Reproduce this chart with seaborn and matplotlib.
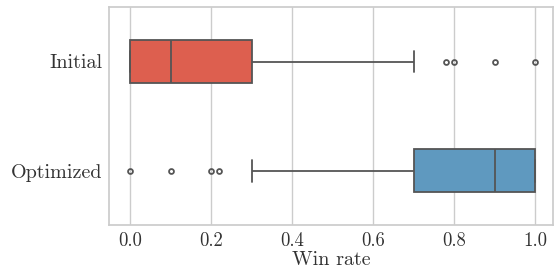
import matplotlib
matplotlib.use("Agg")
import matplotlib.pyplot as plt
import seaborn as sns
import pandas as pd

categories = ["Initial", "Optimized"]
initial_rates = [0, 0, 0, 0, 0, 0, 0, 0.1, 0.1, 0.1, 0.1, 0.1, 0.1, 0.1,
                 0.2, 0.2, 0.3, 0.3, 0.3, 0.5, 0.7, 0.78, 0.8, 0.9, 1.0]
optimized_rates = [0, 0.1, 0.2, 0.22, 0.3, 0.5, 0.7, 0.7, 0.8, 0.8, 0.9, 0.9,
                   0.9, 0.9, 1.0, 1.0, 1.0, 1.0, 1.0, 1.0, 1.0, 1.0, 1.0, 1.0, 1.0]
colors = ["#dd5f4f", "#5f99bf"]
xlabel = "Win rate"

df = pd.DataFrame({
    "Method": [categories[0]] * len(initial_rates) + [categories[1]] * len(optimized_rates),
    "Win rate": initial_rates + optimized_rates,
})

sns.set_theme(style="whitegrid")
plt.rcParams["font.family"] = ["cmr10", "DejaVu Serif"]
plt.rcParams["axes.formatter.use_mathtext"] = True
plt.rcParams["mathtext.fontset"] = "cm"

fig, ax = plt.subplots(figsize=(5.54, 2.69), dpi=100)
sns.boxplot(data=df, x="Win rate", y="Method", hue="Method", order=categories,
            palette=colors, saturation=1, width=0.4, linewidth=1.3,
            linecolor="#555555", legend=False,
            flierprops=dict(marker="o", markersize=3.5, markerfacecolor="none",
                            markeredgecolor="#555555", markeredgewidth=1.3),
            ax=ax)
ax.set_ylabel("")
ax.set_xlabel(xlabel, fontsize=14.5, labelpad=1, color="#333333")
ax.tick_params(axis="y", labelsize=14.5, length=0, pad=5, labelcolor="#333333")
ax.tick_params(axis="x", labelsize=13.5, length=0, pad=5, labelcolor="#333333")
ax.set_xticks([0.0, 0.2, 0.4, 0.6, 0.8, 1.0])
ax.set_xticklabels(["0.0", "0.2", "0.4", "0.6", "0.8", "1.0"])
ax.set_xlim(-0.052, 1.045)
for s in ax.spines.values():
    s.set_color("#cccccc")
fig.subplots_adjust(left=0.197, right=0.999, top=0.974, bottom=0.163)
fig.savefig("out.png", dpi=100)
